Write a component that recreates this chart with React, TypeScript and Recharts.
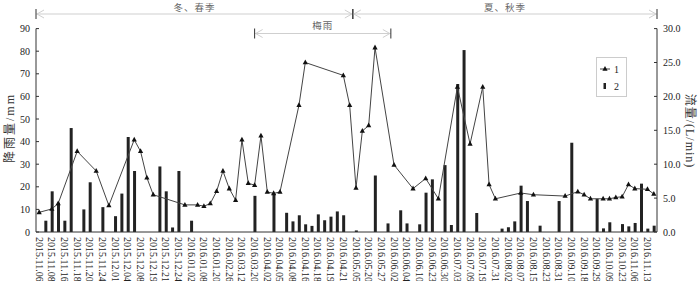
import React from 'react';
import { ComposedChart, Bar, Line, XAxis, YAxis } from 'recharts';

const tickLabels = [
  '2015.11.06', '2015.11.08', '2015.11.16', '2015.11.18', '2015.11.20', '2015.11.24', '2015.12.01',
  '2015.12.04', '2015.12.08', '2015.12.19', '2015.12.21', '2015.12.24', '2016.01.02', '2016.01.08',
  '2016.01.20', '2016.02.26', '2016.03.12', '2016.03.20', '2016.04.02', '2016.04.05', '2016.04.08',
  '2016.04.16', '2016.04.18', '2016.04.19', '2016.04.21', '2016.05.05', '2016.05.20', '2016.05.27',
  '2016.06.02', '2016.06.04', '2016.06.10', '2016.06.23', '2016.06.30', '2016.07.03', '2016.07.09',
  '2016.07.19', '2016.07.31', '2016.08.02', '2016.08.07', '2016.08.15', '2016.08.23', '2016.08.31',
  '2016.09.10', '2016.09.18', '2016.09.29', '2016.10.09', '2016.10.23', '2016.11.06', '2016.11.13',
];

// rainfall (mm), one value per observation slot (labelled every second slot)
const rainfall: (number | null)[] = [
  null, 5, 18, 13, 5, 46, null, 10, 22, null,
  11, null, 7, 17, 42, 27, null, null, null, 29,
  18, 2, 27, null, 5, null, null, null, null, null,
  null, null, null, null, 16, null, null, 17, null, 8.5,
  4.7, 7.4, 3.4, 2.7, 7.8, 5.2, 6.8, 9.1, 7.4, null,
  0.7, null, null, 25, null, 3.8, null, 9.6, 3.8, null,
  3.4, 17.4, 23.3, null, 29.6, 3.1, 65.5, 80.5, null, 8.4,
  null, null, null, 1.5, 2.1, 4.7, 20.5, 13.7, null, 2.8,
  null, null, 13.7, null, 39.5, null, null, null, 14.7, 1.6,
  4.3, null, 3.5, 2.5, 4.0, 21.4, 1.5, 2.8,
];

// flow (L/min)
const flow: (number | null)[] = [
  2.9, null, 3.4, 4.2, null, null, 11.9, null, null, 9.0,
  null, 3.9, null, null, null, 13.6, 11.9, 8.0, 5.5, null,
  null, null, null, 4.0, null, 4.0, 3.8, 4.2, 6.0, 9.0,
  6.4, 4.7, 13.6, 7.2, 6.9, 14.2, 5.9, 5.7, 5.9, null,
  null, 18.7, 25.0, null, null, null, null, null, 23.1, 18.7,
  6.5, 14.9, 15.7, 27.2, null, null, 9.9, null, null, 6.4,
  null, 7.9, null, 4.9, null, null, 21.4, null, 13.0, null,
  21.4, 7.0, 4.9, null, null, null, 5.75, null, 5.5, null,
  null, null, null, 5.3, null, 5.95, 5.5, 4.9, null, 4.9,
  4.9, 5.1, 5.2, 7.0, 6.4, null, 6.3, 5.6,
];

const leftTicks = [0, 10, 20, 30, 40, 50, 60, 70, 80, 90];
const rightTicks = [0, 5, 10, 15, 20, 25, 30];

// annotation spans, in slot units (slot edges)
const seasonSpans = [
  { label: '冬、春季', from: 0, to: 50 },
  { label: '夏、秋季', from: 50, to: 98 },
];
const meiyuSpan = { label: '梅雨', from: 34.5, to: 56 };

const data = rainfall.map((r, i) => ({
  slot: i,
  label: i % 2 === 0 ? tickLabels[i / 2] : '',
  rain: r,
  flow: flow[i],
}));

const W = 700;
const H = 281;
const PLOT_L = 36;
const PLOT_R = 657;
const PLOT_T = 28.6;
const PLOT_B = 232;
const FONT = "'Liberation Serif', 'Times New Roman', 'Noto Sans CJK SC', serif";
const CJK = "'Noto Sans CJK SC', 'Liberation Serif', serif";
const MIXED = "'Liberation Serif', 'Noto Sans CJK SC', serif";

const slotX = (s: number) => PLOT_L + (s * (PLOT_R - PLOT_L)) / data.length;

const XTick = (props: any) => {
  const { x, y, payload } = props;
  const lbl = data[payload.value]?.label;
  if (!lbl) return null;
  return (
    <g transform={`translate(${x},${y}) rotate(90)`}>
      <text x={0} y={0} dy="0.35em" textAnchor="start" fontSize={10} fill="#222" fontFamily={FONT}>
        {lbl}
      </text>
    </g>
  );
};

const LeftTick = (props: any) => {
  const { y, payload } = props;
  return (
    <g>
      <line x1={PLOT_L} x2={PLOT_L + 3} y1={y} y2={y} stroke="#333" strokeWidth={1} />
      <text x={PLOT_L - 6} y={y} dy="0.35em" textAnchor="end" fontSize={10} fill="#222" fontFamily={FONT}>
        {payload.value}
      </text>
    </g>
  );
};

const RightTick = (props: any) => {
  const { y, payload } = props;
  return (
    <g>
      <line x1={PLOT_R - 3} x2={PLOT_R} y1={y} y2={y} stroke="#333" strokeWidth={1} />
      <text x={PLOT_R + 6} y={y} dy="0.35em" textAnchor="start" fontSize={10} fill="#222" fontFamily={FONT}>
        {Number(payload.value).toFixed(1)}
      </text>
    </g>
  );
};

const TriDot = (props: any) => {
  const { cx, cy, value } = props;
  if (value == null || cx == null || cy == null) return null;
  return <path d={`M${cx},${cy - 3} L${cx + 2.6},${cy + 1.8} L${cx - 2.6},${cy + 1.8} Z`} fill="#111" />;
};

const SpanArrow = ({ x1, x2, y, label, ty }: { x1: number; x2: number; y: number; label: string; ty: number }) => (
  <g>
    <line x1={x1} x2={x2} y1={y} y2={y} stroke="#cfcfcf" strokeWidth={1.2} />
    <polyline points={`${x1 + 8},${y - 4} ${x1 + 1},${y} ${x1 + 8},${y + 4}`} fill="none" stroke="#cfcfcf" strokeWidth={1} />
    <polyline points={`${x2 - 8},${y - 4} ${x2 - 1},${y} ${x2 - 8},${y + 4}`} fill="none" stroke="#cfcfcf" strokeWidth={1} />
    <line x1={x1} x2={x1} y1={y - 5} y2={y + 5} stroke="#333" strokeWidth={1} />
    <line x1={x2} x2={x2} y1={y - 5} y2={y + 5} stroke="#333" strokeWidth={1} />
    <text x={(x1 + x2) / 2} y={ty} dy="0.35em" textAnchor="middle" fontSize={9.5} fill="#666" fontFamily={CJK} letterSpacing={1}>
      {label}
    </text>
  </g>
);

export default function App() {
  return (
    <div style={{ position: 'relative', width: W, height: H, background: '#fff' }}>
      <style>{`body{margin:0;}`}</style>
      <ComposedChart
        width={W}
        height={H}
        data={data}
        margin={{ top: PLOT_T, right: W - PLOT_R - 35, bottom: 0, left: PLOT_L - 28 }}
      >
        <XAxis
          dataKey="slot"
          type="category"
          interval={0}
          height={H - PLOT_B}
          tickLine={false}
          tickSize={0}
          tickMargin={5}
          tick={<XTick />}
          axisLine={{ stroke: '#333' }}
        />
        <YAxis
          yAxisId="left"
          orientation="left"
          width={28}
          domain={[0, 90]}
          ticks={leftTicks}
          interval={0}
          tickLine={false}
          tickSize={0}
          tick={<LeftTick />}
          axisLine={{ stroke: '#333' }}
        />
        <YAxis
          yAxisId="right"
          orientation="right"
          width={35}
          domain={[0, 30]}
          ticks={rightTicks}
          interval={0}
          tickLine={false}
          tickSize={0}
          tick={<RightTick />}
          axisLine={{ stroke: '#333' }}
        />
        <Bar yAxisId="left" dataKey="rain" fill="#222" barSize={3} isAnimationActive={false} />
        <Line
          yAxisId="right"
          dataKey="flow"
          stroke="#444"
          strokeWidth={1}
          connectNulls
          dot={<TriDot />}
          activeDot={false}
          isAnimationActive={false}
        />
      </ComposedChart>
      <svg width={W} height={H} style={{ position: 'absolute', left: 0, top: 0, pointerEvents: 'none' }}>
        {seasonSpans.map((s) => (
          <SpanArrow key={s.label} x1={slotX(s.from)} x2={slotX(s.to)} y={14} ty={7.5} label={s.label} />
        ))}
        <SpanArrow x1={slotX(meiyuSpan.from)} x2={slotX(meiyuSpan.to)} y={33.5} ty={26} label={meiyuSpan.label} />
        <text
          transform={`translate(9.5,128) rotate(-90)`}
          textAnchor="middle"
          dy="0.35em"
          fontSize={12}
          fill="#333"
          fontFamily={MIXED}
          letterSpacing={2}
        >
          降雨量/mm
        </text>
        <text
          transform={`translate(690,131) rotate(90)`}
          textAnchor="middle"
          dy="0.35em"
          fontSize={12}
          fill="#333"
          fontFamily={MIXED}
          letterSpacing={1}
        >
          流量/(L/min)
        </text>
        <g>
          <rect x={596.5} y={57.5} width={30} height={39} fill="#fff" stroke="#ccc" strokeWidth={1} />
          <line x1={600} x2={610} y1={69} y2={69} stroke="#444" strokeWidth={1} />
          <path d="M605,66 L607.6,70.8 L602.4,70.8 Z" fill="#111" />
          <text x={614} y={69} dy="0.35em" fontSize={10} fill="#222" fontFamily={FONT}>1</text>
          <rect x={603.5} y={83} width={2.5} height={6} fill="#222" />
          <text x={614} y={86} dy="0.35em" fontSize={10} fill="#222" fontFamily={FONT}>2</text>
        </g>
      </svg>
    </div>
  );
}
